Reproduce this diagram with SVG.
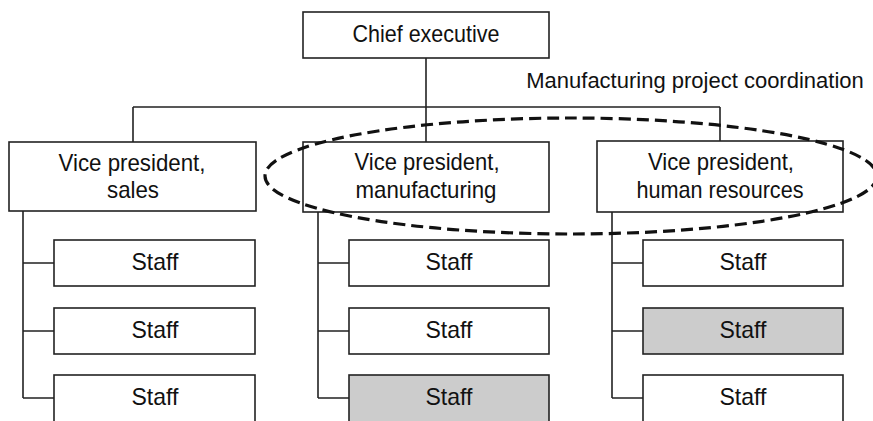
<svg xmlns="http://www.w3.org/2000/svg" width="873" height="421" viewBox="0 0 873 421">
<style>
.box{fill:#fff;stroke:#222;stroke-width:1.6}
.gray{fill:#cccccc}
.ln{stroke:#222;stroke-width:1.6;fill:none}
.t{font-family:"Liberation Sans",Arial,sans-serif;font-size:24px;fill:#111;text-anchor:middle}
.oval{fill:none;stroke:#111;stroke-width:3.2;stroke-dasharray:12 6}
</style>
<rect width="873" height="421" fill="#fff"/>
<g id="connectors">
<path class="ln" d="M426 58V142M133 107H720M133 107V142M720 107V142"/>
<path class="ln" d="M23 211V398M23 263H54M23 331H54M23 398H54"/>
<path class="ln" d="M318 212V398M318 263H349M318 331H349M318 398H349"/>
<path class="ln" d="M612 212V398M612 263H643M612 331H643M612 398H643"/>
</g>
<g id="chief"><rect class="box" x="303" y="12" width="246" height="46"/><text class="t" x="426" y="42" textLength="147" lengthAdjust="spacingAndGlyphs">Chief executive</text></g>
<g id="vp-sales"><rect class="box" x="9" y="142" width="247" height="69"/><text class="t" x="132" y="171" textLength="147" lengthAdjust="spacingAndGlyphs">Vice president,</text><text class="t" x="133" y="198" textLength="52" lengthAdjust="spacingAndGlyphs">sales</text></g>
<g id="vp-mfg"><rect class="box" x="303" y="142" width="246" height="70"/><text class="t" x="427" y="170" textLength="145" lengthAdjust="spacingAndGlyphs">Vice president,</text><text class="t" x="426" y="198" textLength="141" lengthAdjust="spacingAndGlyphs">manufacturing</text></g>
<g id="vp-hr"><rect class="box" x="597" y="141" width="246" height="71"/><text class="t" x="721" y="170" textLength="146" lengthAdjust="spacingAndGlyphs">Vice president,</text><text class="t" x="720" y="198" textLength="167" lengthAdjust="spacingAndGlyphs">human resources</text></g>
<g id="sales-staff-1"><rect class="box" x="54" y="240" width="201" height="46"/><text class="t" x="155" y="270" textLength="47" lengthAdjust="spacingAndGlyphs">Staff</text></g>
<g id="sales-staff-2"><rect class="box" x="54" y="308" width="201" height="46"/><text class="t" x="155" y="338" textLength="47" lengthAdjust="spacingAndGlyphs">Staff</text></g>
<g id="sales-staff-3"><rect class="box" x="54" y="375" width="201" height="48"/><text class="t" x="155" y="405" textLength="47" lengthAdjust="spacingAndGlyphs">Staff</text></g>
<g id="mfg-staff-1"><rect class="box" x="349" y="240" width="200" height="46"/><text class="t" x="449" y="270" textLength="47" lengthAdjust="spacingAndGlyphs">Staff</text></g>
<g id="mfg-staff-2"><rect class="box" x="349" y="308" width="200" height="46"/><text class="t" x="449" y="338" textLength="47" lengthAdjust="spacingAndGlyphs">Staff</text></g>
<g id="mfg-staff-3"><rect class="box gray" x="349" y="375" width="200" height="48"/><text class="t" x="449" y="405" textLength="47" lengthAdjust="spacingAndGlyphs">Staff</text></g>
<g id="hr-staff-1"><rect class="box" x="643" y="240" width="200" height="46"/><text class="t" x="743" y="270" textLength="47" lengthAdjust="spacingAndGlyphs">Staff</text></g>
<g id="hr-staff-2"><rect class="box gray" x="643" y="308" width="200" height="46"/><text class="t" x="743" y="338" textLength="47" lengthAdjust="spacingAndGlyphs">Staff</text></g>
<g id="hr-staff-3"><rect class="box" x="643" y="375" width="200" height="48"/><text class="t" x="743" y="405" textLength="47" lengthAdjust="spacingAndGlyphs">Staff</text></g>
<g id="coordination">
<ellipse class="oval" cx="571" cy="176" rx="306" ry="58"/>
<text class="t" x="695" y="88" style="font-size:22px">Manufacturing project coordination</text>
</g>
</svg>
